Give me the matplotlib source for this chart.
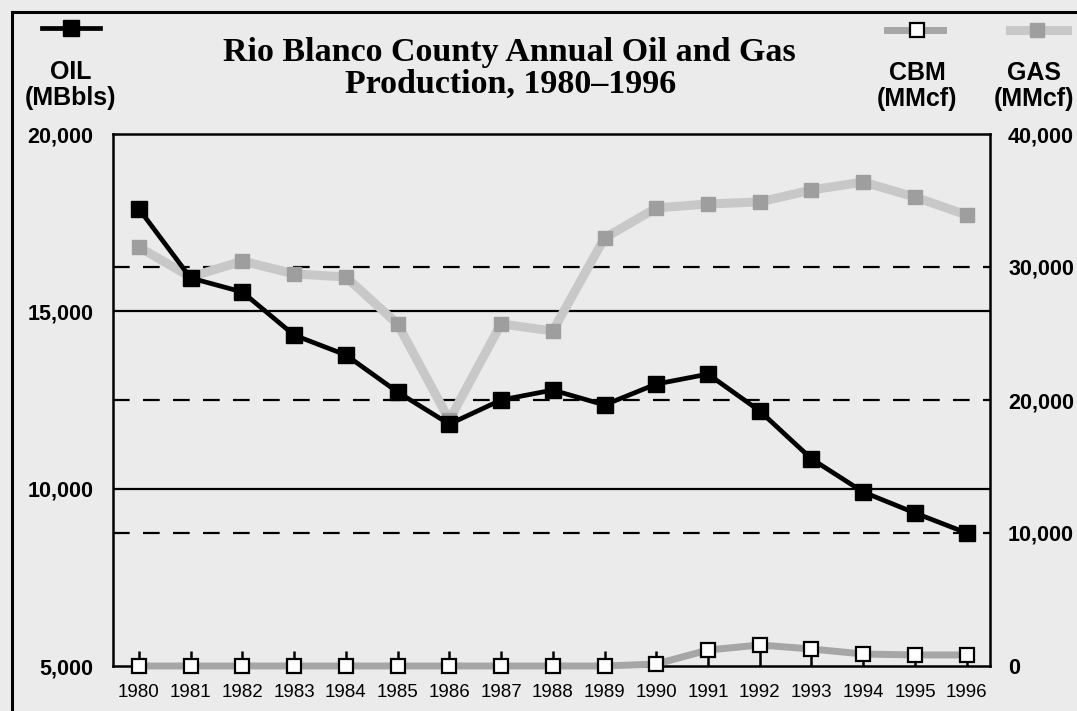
import matplotlib
matplotlib.use("Agg")
import matplotlib.pyplot as plt
from matplotlib.lines import Line2D
from matplotlib.ticker import FuncFormatter

# Annual production, Rio Blanco County
years = list(range(1980, 1997))
oil_mbbls = [17890, 15940, 15545, 14330, 13770, 12725, 11820, 12500, 12780,
             12360, 12950, 13230, 12190, 10840, 9905, 9315, 8750]
gas_mmcf = [31500, 29250, 30450, 29480, 29250, 25720, 18500, 25720, 25190,
            32180, 34440, 34740, 34890, 35790, 36390, 35260, 33910]
cbm_mmcf = [0, 0, 0, 0, 0, 0, 0, 0, 0, 0, 150, 1200, 1580, 1280, 900, 830, 830]

oil_ticks = [5000, 10000, 15000, 20000]
gas_ticks = [0, 10000, 20000, 30000, 40000]

title_lines = ["Rio Blanco County Annual Oil and Gas", "Production, 1980\u20131996"]

BG = "#ebebeb"
W, H = 1077, 711

fig = plt.figure(figsize=(W / 100, H / 100), dpi=100, facecolor=BG)

left, right, bottom, top = 113, 990, 666, 134
rect = [left / W, 1 - bottom / H, (right - left) / W, (bottom - top) / H]
ax = fig.add_axes(rect)
ax2 = ax.twinx()

# right axis (gas, CBM) sits beneath the oil axis
ax.set_zorder(2)
ax2.set_zorder(1)
ax.patch.set_visible(False)
ax2.patch.set_visible(False)

ax.set_xlim(1979.5, 1996.45)
ax.set_ylim(oil_ticks[0], oil_ticks[-1])
ax2.set_ylim(gas_ticks[0], gas_ticks[-1])

# gridlines: solid on the oil scale, dashed on the gas scale
for v in oil_ticks[1:-1]:
    ax2.plot([0, 1], [v, v], transform=ax.get_yaxis_transform(),
             color="black", lw=1.6, zorder=1)
for v in gas_ticks[1:-1]:
    ax2.plot([0, 1], [v, v], transform=ax2.get_yaxis_transform(),
             color="black", lw=1.6, dashes=(7.5, 6), zorder=1)

# gas
ax2.plot(years, gas_mmcf, color="#c8c8c8", lw=6.5, solid_joinstyle="miter",
         marker="s", markersize=10, markerfacecolor="#9e9e9e",
         markeredgecolor="#9e9e9e", zorder=2)
# coalbed methane
ax2.plot(years, cbm_mmcf, color="#a6a6a6", lw=5, marker="s", markersize=10.5,
         markerfacecolor="white", markeredgecolor="black", markeredgewidth=1.6,
         zorder=3, clip_on=False)
# oil
ax.plot(years, oil_mbbls, color="black", lw=3.4, marker="s", markersize=11,
        markerfacecolor="black", markeredgecolor="black", zorder=3, clip_on=False)

# spines
for s in ["top", "right", "bottom", "left"]:
    ax2.spines[s].set_visible(False)
ax.spines["bottom"].set_visible(False)
ax2.spines["bottom"].set_visible(True)
ax2.spines["right"].set_visible(True)
ax.spines["right"].set_visible(False)
for sp in [ax.spines["left"], ax.spines["top"], ax2.spines["bottom"], ax2.spines["right"]]:
    sp.set_linewidth(1.8)
    sp.set_color("black")
ax2.spines["bottom"].set_zorder(2.4)

# x axis on the lower axes
ax.xaxis.set_visible(False)
ax2.xaxis.set_visible(True)
ax2.set_xticks(years)
ax2.set_xticklabels([str(y) for y in years])
ax2.tick_params(axis="x", direction="in", length=11, width=1.8, pad=13,
                labelsize=13.5, colors="black")

comma = FuncFormatter(lambda v, p: f"{int(v):,}")
ax.set_yticks(oil_ticks)
ax.yaxis.set_major_formatter(comma)
ax.tick_params(axis="y", length=0, pad=14, labelsize=15.5)
ax2.set_yticks(gas_ticks)
ax2.yaxis.set_major_formatter(comma)
ax2.tick_params(axis="y", direction="in", length=0, pad=13, labelsize=15.5)

for lbl in ax.get_yticklabels() + ax2.get_yticklabels() + ax2.get_xticklabels():
    lbl.set_fontfamily("Liberation Sans")
for lbl in ax.get_yticklabels() + ax2.get_yticklabels():
    lbl.set_fontweight("bold")

# title
title_kw = dict(ha="center", va="center", fontfamily="Liberation Serif",
                fontweight="bold", fontsize=24.5)
fig.text(509 / W, 1 - 52 / H, title_lines[0], **title_kw)
fig.text(511 / W, 1 - 84 / H, title_lines[1], **title_kw)

# series keys above the axes
def px(x, y):
    return x / W, 1 - y / H

def key(x0, x1, xm, y, **kw):
    line_kw = {k: v for k, v in kw.items() if not k.startswith("marker")}
    fig.add_artist(Line2D([x0 / W, x1 / W], [1 - y / H, 1 - y / H], **line_kw))
    mk = {k: v for k, v in kw.items() if k.startswith("marker")}
    fig.add_artist(Line2D([xm / W], [1 - y / H], linestyle="none", **mk))

key(42, 100, 71, 28, color="black", lw=3.4, marker="s", markersize=11,
    markerfacecolor="black", markeredgecolor="black")
key(887, 943, 917, 30, color="#a6a6a6", lw=5, marker="s", markersize=10.5,
    markerfacecolor="white", markeredgecolor="black", markeredgewidth=1.6)
key(1010, 1067, 1037, 30, color="#c8c8c8", lw=6.5, marker="s", markersize=10,
    markerfacecolor="#9e9e9e", markeredgecolor="#9e9e9e")

label_kw = dict(ha="center", va="center", fontfamily="Liberation Sans",
                fontweight="bold", fontsize=18, linespacing=1.1)
fig.text(*px(71, 85), "OIL\n(MBbls)", **label_kw)
fig.text(*px(917, 86), "CBM\n(MMcf)", **label_kw)
fig.text(*px(1034, 86), "GAS\n(MMcf)", **label_kw)

# page frame
fig.add_artist(Line2D([12 / W, 12 / W], [0, 1 - 12 / H], color="black", lw=2.2))
fig.add_artist(Line2D([12 / W, 1], [1 - 12 / H, 1 - 12 / H], color="black", lw=2.2))

fig.savefig("out.png", dpi=100, facecolor=BG)
